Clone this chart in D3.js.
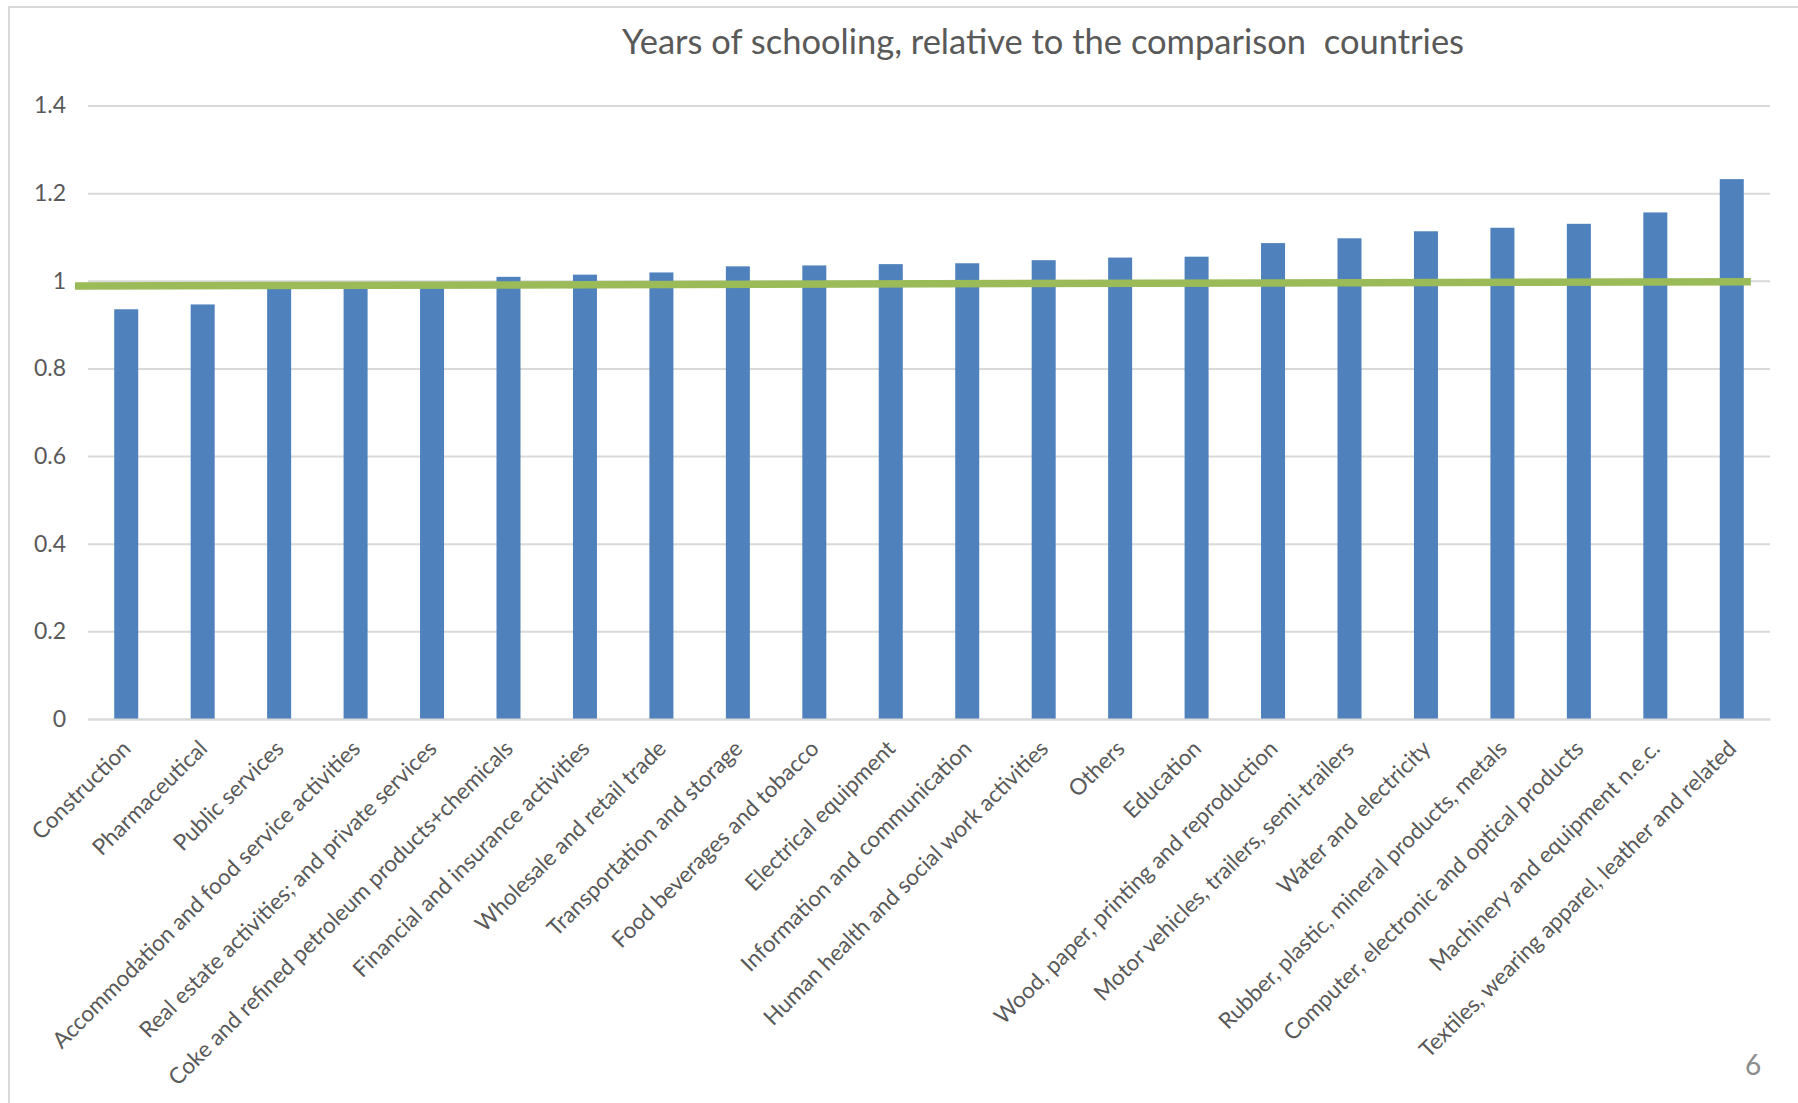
<!DOCTYPE html>
<html>
<head>
<meta charset="utf-8">
<script src="https://d3js.org/d3.v7.min.js"></script>
<style>
  body { margin: 0; background: #fff; }
  svg { display: block; font-family: Lato, "Open Sans", sans-serif; }
</style>
</head>
<body>
<svg id="chart" width="1798" height="1103"></svg>
<script>
// sectors, sorted by value
var categories = ["Construction", "Pharmaceutical", "Public services",
  "Accommodation and food service activities", "Real estate activities; and private services",
  "Coke and refined petroleum products+chemicals", "Financial and insurance activities",
  "Wholesale and retail trade", "Transportation and storage", "Food beverages and tobacco",
  "Electrical equipment", "Information and communication", "Human health and social work activities",
  "Others", "Education", "Wood, paper, printing and reproduction",
  "Motor vehicles, trailers, semi-trailers", "Water and electricity",
  "Rubber, plastic, mineral products, metals", "Computer, electronic and optical products",
  "Machinery and equipment n.e.c.", "Textiles, wearing apparel, leather and related"];
var values = [0.935, 0.946, 0.985, 0.987, 0.99, 1.009, 1.014, 1.019, 1.033, 1.035,
  1.038, 1.040, 1.047, 1.053, 1.055, 1.086, 1.097, 1.113, 1.121, 1.130, 1.156, 1.232];
var tickValues = [0, 0.2, 0.4, 0.6, 0.8, 1, 1.2, 1.4];
var tickLabels = ["0", "0.2", "0.4", "0.6", "0.8", "1", "1.2", "1.4"];
// green reference line, position in category steps from the first bar
var refLine = [{at: -0.67, value: 0.988}, {at: 21.25, value: 0.998}];

var title = "Years of schooling, relative to the comparison\u00a0 countries";

var svg = d3.select("#chart");
var margin = {top: 105.5, left: 88, right: 28, bottom: 384};
var width = 1798 - margin.left - margin.right,
    height = 1103 - margin.top - margin.bottom;

// outer frame
svg.append("rect")
  .attr("x", 9).attr("y", 7)
  .attr("width", 1800).attr("height", 1200)
  .attr("fill", "none")
  .attr("stroke", "#d9d9d9")
  .attr("stroke-width", 2);

svg.append("text")
  .attr("x", 1043).attr("y", 54)
  .attr("text-anchor", "middle")
  .attr("fill", "#595959")
  .style("font-size", "34.5px")
  .text(title);

var g = svg.append("g")
  .attr("transform", "translate(" + margin.left + "," + margin.top + ")");

var x = d3.scaleBand()
  .domain(categories)
  .range([0, width])
  .paddingInner(0.686)
  .paddingOuter(0.343);

var y = d3.scaleLinear()
  .domain([0, 1.4])
  .range([height, 0]);

var yAxis = g.append("g")
  .call(d3.axisLeft(y)
    .tickValues(tickValues)
    .tickSize(-width)
    .tickPadding(22)
    .tickFormat(function(d, i) { return tickLabels[i]; }));
yAxis.select(".domain").remove();
yAxis.selectAll(".tick line").attr("stroke", "#d9d9d9").attr("stroke-width", 2);
yAxis.selectAll(".tick text")
  .attr("fill", "#595959")
  .style("font-size", "23px")
  .style("font-family", "Lato, sans-serif");

g.selectAll(".bar")
  .data(values)
  .enter()
  .append("rect")
  .attr("class", "bar")
  .attr("fill", "#4f81bd")
  .attr("x", function(d, i) { return x(categories[i]); })
  .attr("width", x.bandwidth())
  .attr("y", function(d) { return y(d); })
  .attr("height", function(d) { return height - y(d); });

// category labels
var xAxis = g.append("g")
  .attr("transform", "translate(0," + height + ")")
  .call(d3.axisBottom(x).tickSize(0).tickPadding(0));
xAxis.select(".domain").attr("stroke", "#d9d9d9").attr("stroke-width", 2);
xAxis.selectAll(".tick text")
  .attr("fill", "#595959")
  .style("font-size", "22.5px")
  .style("font-family", "Lato, sans-serif")
  .attr("text-anchor", "end")
  .attr("dy", null)
  .attr("y", 0)
  .attr("transform", "translate(6,31) rotate(-45)");

// reference line
var pos = d3.scaleLinear()
  .domain([0, 1])
  .range([x(categories[0]) + x.bandwidth() / 2, x(categories[1]) + x.bandwidth() / 2]);

g.append("path")
  .datum(refLine)
  .attr("fill", "none")
  .attr("stroke", "#9bbb59")
  .attr("stroke-width", 7.5)
  .attr("d", d3.line()
    .x(function(d) { return pos(d.at); })
    .y(function(d) { return y(d.value); }));

// slide number
svg.append("text")
  .attr("x", 1753).attr("y", 1075)
  .attr("text-anchor", "middle")
  .attr("fill", "#8c8c8c")
  .style("font-size", "28px")
  .text("6");
</script>
</body>
</html>
